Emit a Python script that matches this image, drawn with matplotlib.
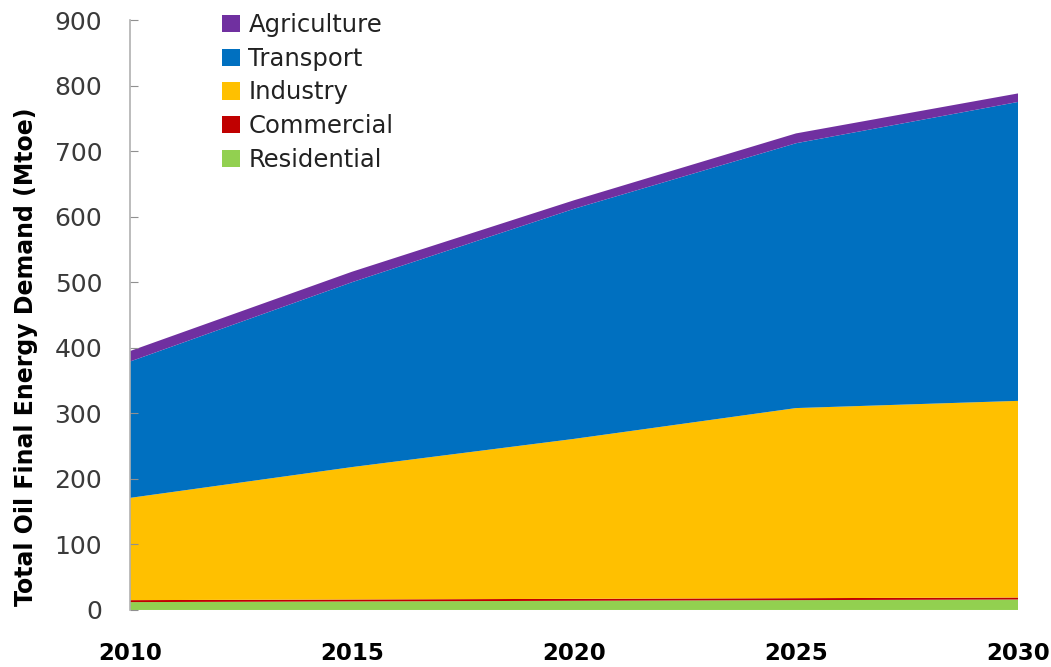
import matplotlib
matplotlib.use('Agg')
import matplotlib.pyplot as plt
import numpy as np

years = [2010, 2015, 2020, 2025, 2030]
sectors = ['Residential', 'Commercial', 'Industry', 'Transport', 'Agriculture']
residential = [12, 13, 14, 15, 16]
commercial = [3, 3, 3, 3, 3]
industry = [156, 202, 244, 290, 300]
transport = [208, 282, 351, 404, 456]
agriculture = [16, 16, 13, 15, 13]
colors = ['#92D050', '#C00000', '#FFC000', '#0070C0', '#7030A0']

fig = plt.figure(figsize=(10.51, 6.67), dpi=100)
ax = fig.add_axes([0.1237, 0.0855, 0.8449, 0.8845])

ax.stackplot(years, residential, commercial, industry, transport, agriculture,
             colors=colors, labels=sectors, linewidth=0)

ax.set_xlim(2010, 2030)
ax.set_ylim(0, 900)
ax.set_xticks(years)
ax.set_yticks(np.arange(0, 901, 100))

for s in ['top', 'right', 'bottom']:
    ax.spines[s].set_visible(False)
ax.spines['left'].set_color('#b0b0b0')
ax.spines['left'].set_linewidth(1.2)

ax.tick_params(axis='y', direction='in', length=6, color='#909090', pad=20,
               labelsize=18, labelcolor='#3a3a3a')
ax.tick_params(axis='x', length=0, pad=23, labelsize=16.5)
for lbl in ax.get_xticklabels():
    lbl.set_fontweight('bold')

fig.text(26 / 1051, 1 - 357 / 667, 'Total Oil Final Energy Demand (Mtoe)',
         rotation=90, ha='center', va='center', fontsize=17, fontweight='bold')

# legend listed top-down, same order as the stack from the top
handles, labels = ax.get_legend_handles_labels()
leg = ax.legend(handles[::-1], labels[::-1], loc='upper left',
                bbox_to_anchor=(222 / 1051, 1 - 13 / 667), bbox_transform=fig.transFigure,
                frameon=False, fontsize=17.5, borderpad=0, borderaxespad=0,
                handlelength=0.72, handleheight=0.72, handletextpad=0.37, labelspacing=0.4)
for t in leg.get_texts():
    t.set_color('#222222')

fig.savefig('out.png', dpi=100)
